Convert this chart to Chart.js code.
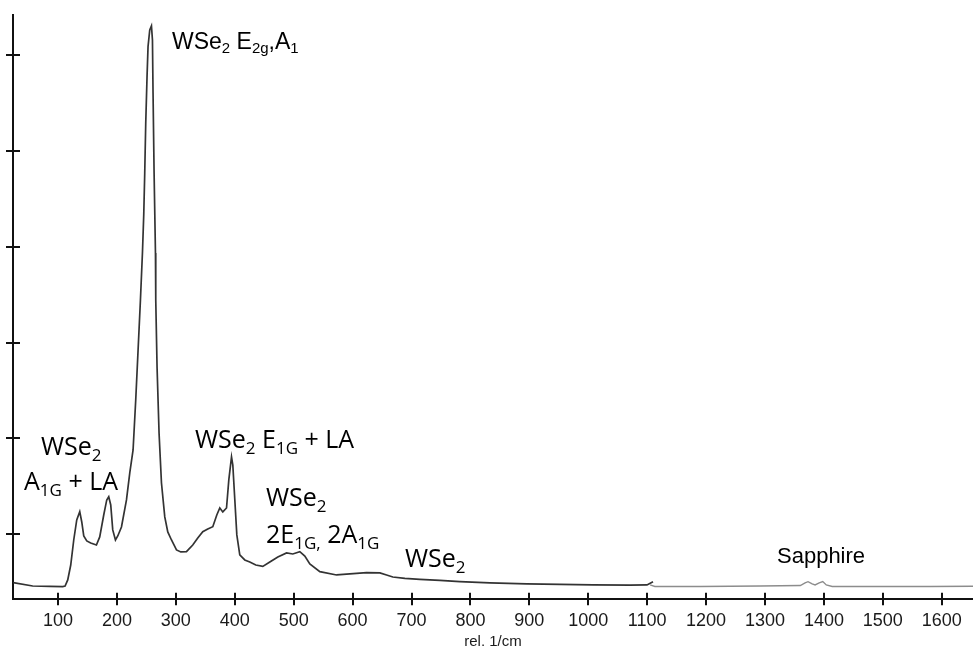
<!DOCTYPE html>
<html>
<head>
<meta charset="utf-8">
<script src="https://cdn.jsdelivr.net/npm/chart.js@4.4.1/dist/chart.umd.min.js"></script>
<style>
  html, body { margin: 0; padding: 0; background: #ffffff; }
  #wrap { width: 973px; height: 648px; position: relative; }
</style>
</head>
<body>
<div id="wrap"><canvas id="c"></canvas></div>
<script>
// ---- data (Raman spectrum, arbitrary intensity units) ----
const wavenumber = [24, 57, 86, 108, 112, 116.5, 121.6, 126.7, 131.8, 136.9, 140.3, 143.7, 148.8, 155.5, 165.2, 170.8, 177.6, 182.7, 186.1, 189.5, 192.9, 197.5, 201.4, 207.7, 216.2, 221.8, 227.4, 231.9, 235.9, 239.9, 243.3, 245.5, 247.2, 248.9, 251.1, 252.8, 255.7, 258.6, 260.3, 261.3, 263.0, 265.4, 265.9, 268.1, 271.5, 275.6, 281.2, 286.3, 292.6, 301.1, 308.4, 318.0, 328.7, 337.2, 345.7, 354.2, 362.7, 369.5, 374.6, 379.7, 386, 389.9, 394.5, 396.7, 400.1, 403.5, 408.5, 417, 425.5, 435.7, 447.6, 459.5, 473.1, 487.9, 498.5, 510.4, 518.9, 527.4, 544.4, 572.8, 595.4, 623.7, 646.3, 657.7, 668.3, 688.7, 714.2, 748.2, 782.1, 833.1, 895.4, 952, 1008, 1070.8, 1099.7, 1109.9];
const intensity = [494, 459, 454, 452, 458, 522, 678, 939, 1148, 1235, 1127, 981, 929, 908, 887, 971, 1200, 1357, 1391, 1305, 1044, 939, 981, 1075, 1357, 1639, 1879, 2401, 2923, 3445, 3935, 4332, 4770, 5292, 5775, 6089, 6263, 6305, 6158, 5605, 4801, 3935, 3445, 2745, 2056, 1534, 1180, 1023, 939, 835, 814, 817, 887, 960, 1026, 1054, 1078, 1200, 1273, 1232, 1273, 1566, 1806, 1722, 1357, 992, 783, 731, 710, 678, 663, 710, 762, 804, 793, 817, 772, 689, 609, 574, 585, 598, 595, 574, 553, 538, 529, 517, 504, 491, 480, 475, 470, 467, 470, 504];
const sapphireWavenumber = [1105, 1113, 1190, 1292, 1360, 1368, 1373, 1380, 1385, 1392, 1398, 1404, 1414, 1495, 1580, 1653];
const sapphireIntensity = [470, 454, 454, 459, 464, 491, 504, 480, 470, 491, 506, 470, 454, 454, 454, 456];
const xTickValues = [100, 200, 300, 400, 500, 600, 700, 800, 900, 1000, 1100, 1200, 1300, 1400, 1500, 1600];
const yTickValues = [1000, 2000, 3000, 4000, 5000, 6000];
const xAxisTitle = 'rel. 1/cm';
// annotation texts: segments with subscript flag
const peakLabels = [
  { segs: [['WSe', 0], ['2', 1], [' E', 0], ['2g', 1], [',A', 0], ['1', 1]], font: 'arial' },
  { segs: [['WSe', 0], ['2', 1]], font: 'cal' },
  { segs: [['A', 0], ['1G', 1], [' + LA', 0]], font: 'cal' },
  { segs: [['WSe', 0], ['2', 1], [' E', 0], ['1G', 1], [' + LA', 0]], font: 'cal' },
  { segs: [['WSe', 0], ['2', 1]], font: 'cal' },
  { segs: [['2E', 0], ['1G,', 1], [' 2A', 0], ['1G', 1]], font: 'cal' },
  { segs: [['WSe', 0], ['2', 1]], font: 'cal' },
  { segs: [['Sapphire', 0]], font: 'arial' }
];

// ---- presentation ----
const labelPos = [[172, 49], [41, 455], [24, 490], [195, 448], [266, 506], [266, 543], [405, 567], [777, 563]];

const toPts = (xs, ys) => xs.map((x, i) => ({ x: x, y: ys[i] }));

const annotationPlugin = {
  id: 'annot',
  afterDraw(chart) {
    const ctx = chart.ctx;
    const xs = chart.scales.x, ys = chart.scales.y;
    ctx.save();
    // crossing tick marks
    ctx.strokeStyle = '#111';
    ctx.lineWidth = 2;
    ctx.beginPath();
    xTickValues.forEach(v => {
      const p = Math.round(xs.getPixelForValue(v));
      ctx.moveTo(p, ys.bottom - 6.5);
      ctx.lineTo(p, ys.bottom + 6);
    });
    yTickValues.forEach(v => {
      const p = Math.round(ys.getPixelForValue(v));
      ctx.moveTo(xs.left - 7, p);
      ctx.lineTo(xs.left + 7, p);
    });
    ctx.stroke();
    // text labels
    ctx.fillStyle = '#000';
    ctx.textBaseline = 'alphabetic';
    ctx.textAlign = 'left';
    peakLabels.forEach((lab, i) => {
      const isArial = lab.font === 'arial';
      const size = isArial ? (i === 0 ? 23 : 22) : 25;
      const subSize = isArial ? 15 : 17;
      const fam = isArial ? '"Liberation Sans", Arial, sans-serif' : '"Open Sans", "Noto Sans", sans-serif';
      let x = labelPos[i][0];
      const y = labelPos[i][1];
      lab.segs.forEach(([t, sub]) => {
        ctx.font = (sub ? subSize : size) + 'px ' + fam;
        ctx.fillText(t, x, sub ? y + (isArial ? 4 : 6) : y);
        x += ctx.measureText(t).width;
      });
    });
    ctx.restore();
  }
};

new Chart(document.getElementById('c'), {
  type: 'line',
  data: {
    datasets: [
      {
        data: toPts(wavenumber, intensity),
        borderColor: '#333333',
        borderWidth: 1.7,
        pointRadius: 0,
        tension: 0,
        fill: false
      },
      {
        data: toPts(sapphireWavenumber, sapphireIntensity),
        borderColor: '#8c8c8c',
        borderWidth: 1.4,
        pointRadius: 0,
        tension: 0,
        fill: false
      }
    ]
  },
  options: {
    responsive: true,
    maintainAspectRatio: false,
    animation: false,
    events: [],
    layout: { padding: { top: 15, right: 0, left: 0, bottom: 0 } },
    plugins: { legend: { display: false }, tooltip: { enabled: false } },
    scales: {
      x: {
        type: 'linear',
        min: 23.6,
        max: 1653,
        afterBuildTicks: s => { s.ticks = xTickValues.map(v => ({ value: v })); },
        afterFit: s => { s.height = 48.7; },
        grid: { display: false, drawTicks: false },
        border: { display: true, color: '#111', width: 2 },
        ticks: {
          padding: 11,
          color: '#1a1a1a',
          font: { family: '"Liberation Sans", Arial, sans-serif', size: 18 },
          maxRotation: 0,
          autoSkip: false,
          callback: v => String(v)
        },
        title: {
          display: true,
          text: xAxisTitle,
          color: '#1a1a1a',
          font: { family: '"Liberation Sans", Arial, sans-serif', size: 15 },
          padding: { top: 0, bottom: -3 }
        }
      },
      y: {
        type: 'linear',
        min: 320,
        max: 6419,
        afterBuildTicks: s => { s.ticks = yTickValues.map(v => ({ value: v })); },
        afterFit: s => { s.width = 13; },
        grid: { display: false, drawTicks: false },
        border: { display: true, color: '#111', width: 2 },
        ticks: { display: false }
      }
    }
  },
  plugins: [annotationPlugin]
});
</script>
</body>
</html>
